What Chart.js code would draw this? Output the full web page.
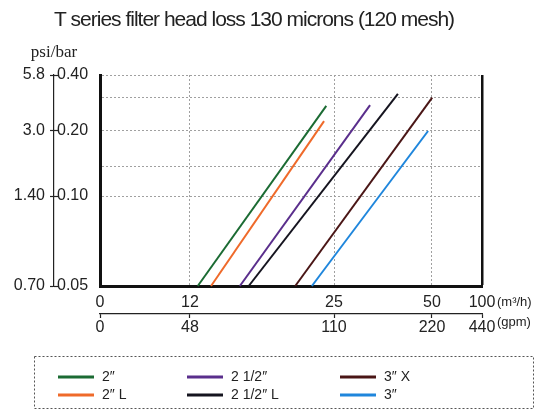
<!DOCTYPE html>
<html>
<head>
<meta charset="utf-8">
<script src="https://cdn.jsdelivr.net/npm/chart.js@4.4.1/dist/chart.umd.min.js"></script>
<style>
  html, body { margin: 0; padding: 0; background: #fff; }
  #wrap { width: 550px; height: 411px; }
</style>
</head>
<body>
<div id="wrap"><canvas id="head-loss" width="550" height="411"></canvas></div>
<script>
/*////////////////////////////////
///            Data            ///
////////////////////////////////*/

const titleText = 'T series filter head loss 130 microns (120 mesh)';

const sizes = ['2″', '2″ L', '2 1/2″', '2 1/2″ L', '3″ X', '3″'];
const flowFrom = [12.7, 13.9, 16.5, 17.3, 21.5, 23.0];   // m3/h
const flowTo = [24.3, 24.1, 34.2, 41.3, 50.2, 49.0];
const lossFrom = [0.05, 0.05, 0.05, 0.05, 0.05, 0.05];   // bar
const lossTo = [0.274, 0.229, 0.276, 0.314, 0.298, 0.20];

const flowTicks = [0, 12, 25, 50, 100];
const gpmLabels = ['0', '48', '110', '220', '440'];
const lossGrid = [0.05, 0.10, 0.15, 0.20, 0.30, 0.40];
const barTicks = [0.05, 0.10, 0.20, 0.40];
const barLabels = ['0.05', '0.10', '0.20', '0.40'];
const psiLabels = ['0.70', '1.40', '3.0', '5.8'];

const colors = ['#1b6b33', '#ef6a2a', '#5a2e8c', '#15141f', '#4a1616', '#1f86dc'];

/*////////////////////////////////
///   Piecewise (broken) axis  ///
////////////////////////////////*/

// the printed chart spaces its ticks by hand, so each axis maps
// value stops onto fractions of its length
const xFracs = [0, 0.2356, 0.6126, 0.8691, 1];
const yFracs = [0, 0.4265, 0.5687, 0.7346, 0.8957, 1];

class BreakScale extends Chart.LinearScale {
  determineDataLimits() {
    const stops = this.options.stops;
    this.min = stops[0];
    this.max = stops[stops.length - 1];
  }
  buildTicks() {
    return this.options.tickValues.map(v => ({ value: v }));
  }
  toDecimal(value) {
    const s = this.options.stops, f = this.options.fracs;
    if (value <= s[0]) return f[0];
    for (let i = 1; i < s.length; i++) {
      if (value <= s[i]) {
        return f[i - 1] + (f[i] - f[i - 1]) * (value - s[i - 1]) / (s[i] - s[i - 1]);
      }
    }
    return f[f.length - 1];
  }
  getPixelForValue(value) {
    return this.getPixelForDecimal(this.toDecimal(value));
  }
  getValueForPixel(pixel) {
    const d = this.getDecimalForPixel(pixel);
    const s = this.options.stops, f = this.options.fracs;
    for (let i = 1; i < f.length; i++) {
      if (d <= f[i]) {
        return s[i - 1] + (s[i] - s[i - 1]) * (d - f[i - 1]) / (f[i] - f[i - 1]);
      }
    }
    return s[s.length - 1];
  }
}
BreakScale.id = 'breaks';
Chart.register(BreakScale);

/*////////////////////////////////
///     Titles and legend      ///
////////////////////////////////*/

const tickFont = { family: '"Liberation Sans", Arial, sans-serif', size: 16 };

const decorations = {
  id: 'decorations',
  afterDraw(chart) {
    const ctx = chart.ctx;
    ctx.save();
    ctx.fillStyle = '#222';

    ctx.font = '21px "Liberation Sans", Arial, sans-serif';
    ctx.letterSpacing = '-1px';
    ctx.textAlign = 'center';
    ctx.textBaseline = 'alphabetic';
    ctx.fillText(titleText, 254, 26);
    ctx.letterSpacing = '0px';

    ctx.font = '17px "Liberation Serif", "Times New Roman", serif';
    ctx.fillText('psi/bar', 54, 57);

    // units after the last tick labels
    let right = chart.scales.xm3.getPixelForValue(100);
    ctx.font = '13px "Liberation Sans", Arial, sans-serif';
    ctx.textAlign = 'left';
    ctx.fillText('(m³/h)', right + 15, 306);
    ctx.fillText('(gpm)', right + 15, 326);

    // dashed legend box, two rows by three columns
    ctx.strokeStyle = '#555';
    ctx.lineWidth = 1;
    ctx.setLineDash([2, 2]);
    ctx.strokeRect(34.5, 356.5, 499, 52);
    ctx.setLineDash([]);

    let colX = [58, 187, 340];
    let rowY = [377, 395];
    ctx.font = '14px "Liberation Sans", Arial, sans-serif';
    ctx.textBaseline = 'middle';
    chart.data.datasets.forEach((ds, i) => {
      let x = colX[Math.floor(i / 2)];
      let y = rowY[i % 2];
      ctx.strokeStyle = ds.borderColor;
      ctx.lineWidth = 3;
      ctx.beginPath();
      ctx.moveTo(x, y);
      ctx.lineTo(x + 36, y);
      ctx.stroke();
      ctx.fillStyle = '#222';
      ctx.fillText(ds.label, x + 44, y);
    });
    ctx.restore();
  }
};

/*////////////////////////////////
///           Chart            ///
////////////////////////////////*/

const datasets = sizes.map((name, i) => ({
  label: name,
  data: [{ x: flowFrom[i], y: lossFrom[i] }, { x: flowTo[i], y: lossTo[i] }],
  borderColor: colors[i],
  borderWidth: 2,
  pointRadius: 0,
  xAxisID: 'x',
  yAxisID: 'y'
}));

const dotted = '#a0a0a0';

let headLoss = new Chart(document.getElementById('head-loss'), {
  type: 'line',
  data: { datasets: datasets },
  options: {
    responsive: false,
    animation: false,
    layout: { padding: { top: 75, right: 68, bottom: 57, left: 0 } },
    plugins: {
      legend: { display: false },
      title: { display: false },
      tooltip: { enabled: false }
    },
    scales: {
      x: {
        type: 'breaks', axis: 'x', position: 'bottom', weight: 0,
        stops: flowTicks, fracs: xFracs, tickValues: flowTicks,
        ticks: { display: false, autoSkip: false },
        grid: {
          drawTicks: false,
          color: c => c.tick.value === 0 ? 'rgba(0,0,0,0)' : (c.tick.value === 100 ? '#111' : dotted),
          lineWidth: c => c.tick.value === 100 ? 2.5 : 1
        },
        border: {
          display: true, width: 3, color: '#111',
          dash: c => (c.tick && c.tick.value === 100) ? [] : [2, 2]
        },
        afterFit: s => { s.height = 28; }
      },
      xm3: {
        type: 'breaks', axis: 'x', position: 'bottom', weight: 1,
        stops: flowTicks, fracs: xFracs, tickValues: flowTicks,
        ticks: { mirror: true, padding: 2, autoSkip: false, maxRotation: 0, color: '#222', font: tickFont,
                 callback: (v, i) => String(flowTicks[i]) },
        grid: { drawOnChartArea: false, drawTicks: false },
        border: { display: false },
        afterFit: s => { s.height = 0; }
      },
      xgpm: {
        type: 'breaks', axis: 'x', position: 'bottom', weight: 2,
        stops: flowTicks, fracs: xFracs, tickValues: flowTicks,
        ticks: { padding: 0, autoSkip: false, maxRotation: 0, color: '#222', font: tickFont,
                 callback: (v, i) => gpmLabels[i] },
        grid: { drawOnChartArea: false, drawTicks: true, tickLength: 4, tickColor: '#222', tickWidth: 1.2 },
        border: { display: true, width: 1.2, color: '#222' },
        afterFit: s => { s.height = 40; }
      },
      y: {
        type: 'breaks', axis: 'y', position: 'left', weight: 0,
        stops: lossGrid, fracs: yFracs, tickValues: lossGrid,
        ticks: { display: false, autoSkip: false },
        grid: {
          drawTicks: false,
          color: c => c.tick.value === 0.05 ? 'rgba(0,0,0,0)' : dotted,
          lineWidth: 1
        },
        border: { display: true, width: 3, color: '#111', dash: [2, 2] },
        afterFit: s => { s.width = 46; }
      },
      ybar: {
        type: 'breaks', axis: 'y', position: 'left', weight: 1,
        stops: lossGrid, fracs: yFracs, tickValues: barTicks,
        ticks: { mirror: true, padding: 3, autoSkip: false, color: '#222', font: tickFont,
                 callback: (v, i) => barLabels[i] },
        grid: { drawOnChartArea: false, drawTicks: true, tickLength: -4, tickColor: '#222', tickWidth: 1.2 },
        border: { display: false },
        afterFit: s => { s.width = 0; }
      },
      ypsi: {
        type: 'breaks', axis: 'y', position: 'left', weight: 2,
        stops: lossGrid, fracs: yFracs, tickValues: barTicks,
        ticks: { padding: 5, autoSkip: false, color: '#222', font: tickFont,
                 callback: (v, i) => psiLabels[i] },
        grid: { drawOnChartArea: false, drawTicks: true, tickLength: 4, tickColor: '#222', tickWidth: 1.2 },
        border: { display: true, width: 1.2, color: '#222' },
        afterFit: s => { s.width = 54; }
      }
    }
  },
  plugins: [decorations]
});
</script>
</body>
</html>
